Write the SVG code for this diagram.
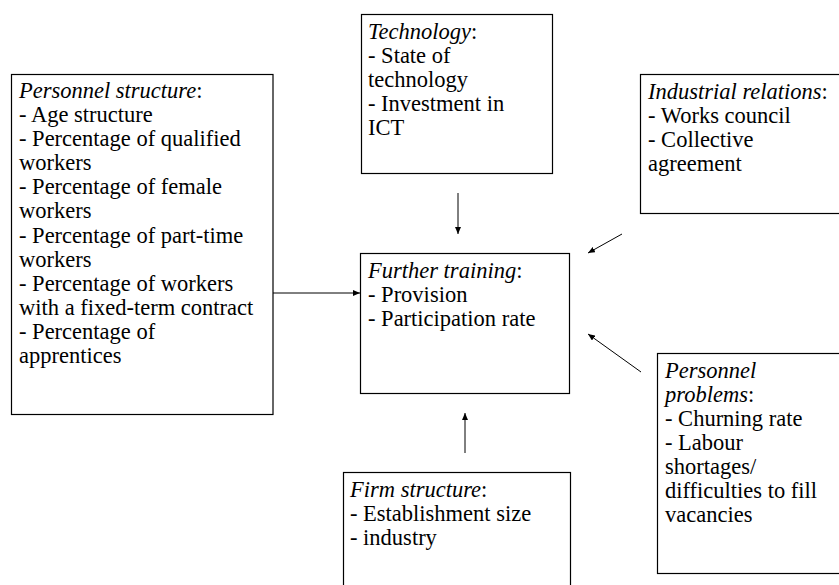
<svg xmlns="http://www.w3.org/2000/svg" width="839" height="585" viewBox="0 0 839 585">
<style>
.box{fill:#fff;stroke:#000;stroke-width:1.2}
text{font-family:"Liberation Serif","Times New Roman",serif;font-size:22.5px;fill:#000}
.i{font-style:italic}
.c{stroke:#000;stroke-width:1;fill:none;marker-end:url(#ah)}
</style>
<defs>
<marker id="ah" markerWidth="8" markerHeight="6" refX="7" refY="3" orient="auto" markerUnits="userSpaceOnUse"><path d="M0,0 L7,3 L0,6 z" fill="#000"/></marker>
</defs>
<rect width="839" height="585" fill="#fff"/>
<g id="personnel-structure">
<rect class="box" x="11.5" y="74.5" width="261.5" height="340"/>
<text x="19" y="98"><tspan class="i">Personnel structure</tspan>:</text>
<text x="19" y="122">- Age structure</text>
<text x="19" y="146">- Percentage of qualified</text>
<text x="19" y="170">workers</text>
<text x="19" y="194">- Percentage of female</text>
<text x="19" y="218">workers</text>
<text x="19" y="243">- Percentage of part-time</text>
<text x="19" y="267">workers</text>
<text x="19" y="291">- Percentage of workers</text>
<text x="19" y="315">with a fixed-term contract</text>
<text x="19" y="339">- Percentage of</text>
<text x="19" y="363">apprentices</text>
</g>
<g id="technology">
<rect class="box" x="361.5" y="14.5" width="191" height="159"/>
<text x="368" y="39"><tspan class="i">Technology</tspan>:</text>
<text x="368" y="63">- State of</text>
<text x="368" y="87">technology</text>
<text x="368" y="111">- Investment in</text>
<text x="368" y="135">ICT</text>
</g>
<g id="industrial-relations">
<rect class="box" x="640.5" y="74.5" width="210" height="139"/>
<text x="648" y="99"><tspan class="i">Industrial relations</tspan>:</text>
<text x="648" y="123">- Works council</text>
<text x="648" y="147">- Collective</text>
<text x="648" y="171">agreement</text>
</g>
<g id="further-training">
<rect class="box" x="360.5" y="253.5" width="209" height="140"/>
<text x="368" y="278"><tspan class="i">Further training</tspan>:</text>
<text x="368" y="302">- Provision</text>
<text x="368" y="326">- Participation rate</text>
</g>
<g id="firm-structure">
<rect class="box" x="343.5" y="472.5" width="227" height="130"/>
<text x="350" y="497"><tspan class="i">Firm structure</tspan>:</text>
<text x="350" y="521">- Establishment size</text>
<text x="350" y="545">- industry</text>
</g>
<g id="personnel-problems">
<rect class="box" x="657.5" y="353.5" width="200" height="220"/>
<text x="665" y="378" class="i">Personnel</text>
<text x="665" y="402"><tspan class="i">problems</tspan>:</text>
<text x="665" y="426">- Churning rate</text>
<text x="665" y="450">- Labour</text>
<text x="665" y="474">shortages/</text>
<text x="665" y="498">difficulties to fill</text>
<text x="665" y="522">vacancies</text>
</g>
<g id="connectors">
<line class="c" x1="273" y1="293" x2="360" y2="293"/>
<line class="c" x1="458" y1="193" x2="458" y2="234"/>
<line class="c" x1="622" y1="234" x2="588" y2="253"/>
<line class="c" x1="641" y1="372" x2="588" y2="334"/>
<line class="c" x1="465" y1="453" x2="465" y2="413"/>
</g>
</svg>
